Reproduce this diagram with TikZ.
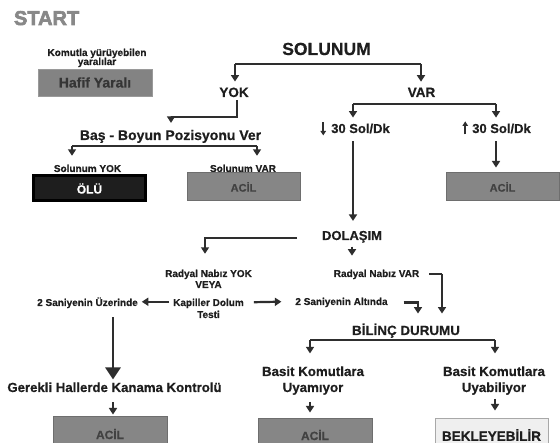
\documentclass[tikz,border=0pt]{standalone}
\usepackage{fontspec}
\setmainfont{Liberation Sans}[BoldFeatures={FakeBold=0.5}]
\newfontfamily\startfont[FakeBold=3]{Liberation Sans Bold}
\usetikzlibrary{arrows.meta}
\definecolor{lc}{HTML}{2E2E2E}
\definecolor{tc}{HTML}{1E1E1E}
\definecolor{startgray}{HTML}{888888}
\definecolor{boxgray}{HTML}{868686}
\definecolor{boxline}{HTML}{6E6E6E}
\definecolor{boxtext}{HTML}{424242}
\definecolor{hafgray}{HTML}{838383}
\definecolor{hafline}{HTML}{9A9A9A}
\definecolor{olufill}{HTML}{1E1E1E}
\definecolor{bekfill}{HTML}{EFEFEF}
\definecolor{bekline}{HTML}{A8A8A8}
\newcommand{\fs}[1]{\fontsize{#1}{#1}\selectfont\bfseries}
\begin{document}
\begin{tikzpicture}[x=1pt,y=-1pt,
  lbl/.style={inner sep=0pt, outer sep=0pt, anchor=base, text=tc},
  sm/.style={lbl, font=\fs{10}},
  md/.style={lbl, font=\fs{13.3}},
  ln/.style={line width=2.2pt, draw=lc, line join=miter},
  arr/.style={ln, -{Triangle[width=8pt,length=6.5pt]}},
  bigarr/.style={line width=2.8pt, draw=lc, -{Triangle[width=15pt,length=12pt]}},
  sarr/.style={line width=1.6pt, draw=lc, -{Triangle[width=5.5pt,length=4.5pt]}},
  acilbox/.style={draw=boxline, line width=1pt, fill=boxgray, text=boxtext, inner sep=0pt, minimum width=113pt, font=\fs{11}},
]
\useasboundingbox (0,0) rectangle (560,443);
\fill[white] (0,0) rectangle (560,443);

% ---- texts ----
\node[lbl, anchor=base west, text=startgray, font=\startfont\fontsize{20}{20}\selectfont] (start) at (14,25) {START};
\node[lbl, font=\fs{10}] (kom1) at (97,56) {Komutla yürüyebilen};
\node[lbl, font=\fs{10}] (kom2) at (97,65) {yaralılar};
\node[draw=hafline, line width=0.8pt, fill=hafgray, text=boxtext!80!black, minimum width=114pt, minimum height=27pt, inner sep=0pt, font=\fs{14}] (hafif) at (95,82.5) {Hafif Yaralı};

\node[lbl, font=\fs{17.5}] (solunum) at (326.5,55) {SOLUNUM};
\node[lbl, font=\fs{13.5}] (yok) at (234,97) {YOK};
\node[lbl, font=\fs{13.5}] (var) at (421.5,97) {VAR};
\node[lbl, font=\fs{14}] (bas) at (170.5,140) {Baş - Boyun Pozisyonu Ver};
\node[sm] (solyok) at (87.5,172) {Solunum YOK};
\node[sm] (solvar) at (243,172) {Solunum VAR};

\node[draw=black, line width=3pt, fill=olufill, text=white, minimum width=112pt, minimum height=25pt, inner sep=0pt, font=\fs{12}] (olu) at (89.5,188.5) {ÖLÜ};
\node[acilbox, minimum height=28pt] (acil1) at (243.5,187) {ACİL};
\node[acilbox, minimum height=28pt] (acil2) at (502.5,187) {ACİL};

\node[lbl, font=\fs{13}] (d30) at (360.5,133) {30 Sol/Dk};
\node[lbl, font=\fs{13}] (u30) at (501.5,133) {30 Sol/Dk};

\node[lbl, font=\fs{13}] (dolasim) at (352,240) {DOLAŞIM};
\node[sm] (ry1) at (208.5,277) {Radyal Nabız YOK};
\node[sm] (ry2) at (208.5,288) {VEYA};
\node[sm] (kap1) at (208.5,306) {Kapiller Dolum};
\node[sm] (kap2) at (208.5,318) {Testi};
\node[sm] (uzer) at (87.5,306) {2 Saniyenin Üzerinde};
\node[sm] (altin) at (341.5,305) {2 Saniyenin Altında};
\node[sm] (rvar) at (376.5,277) {Radyal Nabız VAR};

\node[md, font=\fs{13.4}] (bilinc) at (406,335) {BİLİNÇ DURUMU};
\node[md] (bk1a) at (313,376) {Basit Komutlara};
\node[md] (bk1b) at (313,392) {Uyamıyor};
\node[md] (bk2a) at (494,376) {Basit Komutlara};
\node[md] (bk2b) at (494,392) {Uyabiliyor};
\node[md, font=\fs{13.2}] (gerekli) at (114.5,392) {Gerekli Hallerde Kanama Kontrolü};

\node[acilbox, minimum width=114pt, minimum height=34pt, font=\fs{12}] (acil3) at (110,434) {ACİL};
\node[acilbox, minimum width=114pt, minimum height=32pt, font=\fs{12}] (acil4) at (315,435) {ACİL};
\node[draw=bekline, line width=1pt, fill=bekfill, text=tc, minimum width=113pt, minimum height=32pt, inner sep=0pt, font=\fs{13.5}] (bekle) at (491.5,435) {BEKLEYEBİLİR};

% ---- connectors ----
\coordinate (j1) at (235,64);
\coordinate (j2) at (421,64);
\draw[ln] (j1) -- (j2);
\draw[arr, shorten >=6pt] (j1) -- (j1 |- yok.north);
\draw[arr, shorten >=6pt] (j2) -- (j2 |- var.north);

\coordinate (j3) at (171,117);
\coordinate (j3a) at (237,0);
\draw[arr, shorten >=7pt] (j3a |- yok.south) ++(0,3) |- (j3) -- (j3 |- bas.north);

\coordinate (j4) at (72,146);
\coordinate (j5) at (257,146);
\draw[ln] (j4) -- (j5);
\draw[arr, shorten >=9pt] (j4) -- (j4 |- solyok.north);
\draw[arr, shorten >=9pt] (j5) -- (j5 |- solvar.north);

\coordinate (j6) at (353,104);
\coordinate (j7) at (496,104);
\draw[ln] (j6) -- (j7);
\draw[arr, shorten >=6pt] (j6) -- (j6 |- d30.north);
\draw[arr, shorten >=6pt] (j7) -- (j7 |- u30.north);
\draw[sarr, shorten <=1pt] ([xshift=-8pt,yshift=7pt]d30.west) -- ([xshift=-8pt,yshift=-7pt]d30.west);
\draw[sarr, shorten <=1pt] ([xshift=-7pt,yshift=-7pt]u30.west) -- ([xshift=-7pt,yshift=7pt]u30.west);

\draw[arr, shorten <=8pt, shorten >=10pt] (j6 |- d30.south) -- (j6 |- dolasim.north);
\draw[arr, shorten <=8pt, shorten >=5pt] (j7 |- u30.south) -- (j7 |- acil2.north);

\coordinate (j8) at (297,238);
\coordinate (j9) at (205,238);
\draw[arr, shorten >=16pt] (j8) -- (j9) -- (j9 |- ry1.north);
\draw[arr, shorten <=4pt] (dolasim.south) -- ++(0,13);

\draw[arr, shorten <=4pt, shorten >=4pt] (kap1.west |- uzer.east) ++(0,-1) -- ([yshift=1pt]uzer.east);
\draw[arr, shorten <=10pt, shorten >=14pt] ([yshift=1pt]kap1.east) -- ([yshift=1pt]altin.west);

\coordinate (j10) at (442,274);
\coordinate (j11) at (418,0);
\draw[ln] ([xshift=10pt]rvar.east |- j10) -- (j10);
\draw[arr, shorten >=10pt] (j10) -- (j10 |- bilinc.north);
\draw[arr, shorten <=16pt, shorten >=10pt] (altin.east) -| (j11 |- bilinc.north);

\coordinate (j12) at (310,340);
\coordinate (j13) at (495,340);
\draw[ln] (j12) -- (j13);
\draw[arr, shorten >=13pt] (j12) -- (j12 |- bk1a.north);
\draw[arr, shorten >=13pt] (j13) -- (j13 |- bk2a.north);
\draw[arr, shorten <=7pt, shorten >=6pt] (j12 |- bk1b.south) -- (j12 |- acil4.north);
\draw[arr, shorten <=4pt, shorten >=8pt] (j13 |- bk2b.south) -- (j13 |- bekle.north);

\coordinate (j14) at (113,0);
\draw[bigarr, shorten <=9pt, shorten >=3pt] (j14 |- uzer.south) -- (j14 |- gerekli.north);
\draw[arr, shorten <=10pt, shorten >=2pt] (j14 |- gerekli.south) -- (j14 |- acil3.north);
\end{tikzpicture}
\end{document}
